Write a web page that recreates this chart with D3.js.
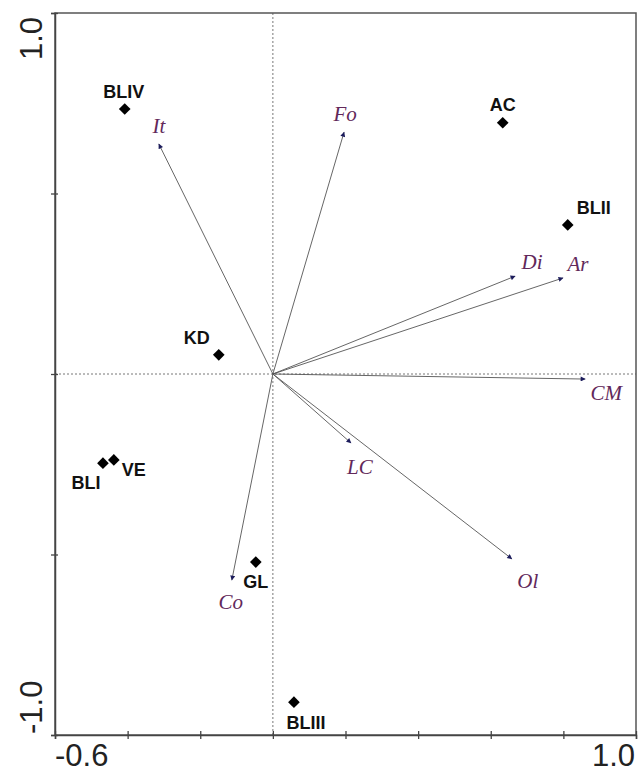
<!DOCTYPE html>
<html>
<head>
<meta charset="utf-8">
<script src="https://cdn.jsdelivr.net/npm/d3@7"></script>
<style>
  body { margin: 0; background: #fff; }
  svg { display: block; }
</style>
</head>
<body>
<svg id="plot"></svg>
<script>
// site scores
var siteNames = ["BLIV", "KD", "AC", "BLII", "BLI", "VE", "GL", "BLIII"];
var siteX = [-0.408, -0.149, 0.633, 0.812, -0.468, -0.438, -0.047, 0.058];
var siteY = [0.734, 0.053, 0.696, 0.413, -0.247, -0.238, -0.521, -0.909];

// environmental vectors
var envNames = ["It", "Fo", "Di", "Ar", "CM", "LC", "Ol", "Co"];
var envX = [-0.314, 0.196, 0.667, 0.799, 0.860, 0.215, 0.658, -0.113];
var envY = [0.637, 0.670, 0.271, 0.266, -0.014, -0.191, -0.512, -0.571];

var xTicks = [-0.6, -0.4, -0.2, 0.0, 0.2, 0.4, 0.6, 0.8, 1.0];
var yTicks = [-1.0, -0.5, 0.0, 0.5, 1.0];

// label offsets (pixels) so the text sits like in the original
var siteLabelPos = {
  "BLIV": [-1, -11, "middle"], "KD": [-22, -11, "middle"], "AC": [0, -12, "middle"],
  "BLII": [9, -11, "start"], "BLI": [-17, 26, "middle"], "VE": [8, 16, "start"],
  "GL": [0, 26, "middle"], "BLIII": [12, 27, "middle"]
};
var envLabelPos = {
  "It": [0, -11], "Fo": [1, -11], "Di": [17, -7], "Ar": [15, -7],
  "CM": [21, 21], "LC": [9, 31], "Ol": [16, 29], "Co": [-1, 29]
};

var width = 638, height = 775;
var plotLeft = 55, plotRight = 636, plotTop = 13, plotBottom = 735;

var svg = d3.select("#plot")
  .attr("width", width)
  .attr("height", height);

var xScale = d3.scaleLinear().domain([-0.6, 1.0]).range([plotLeft, plotRight]);
var yScale = d3.scaleLinear().domain([-1.0, 1.0]).range([plotBottom, plotTop]);

// arrow head
svg.append("defs").append("marker")
  .attr("id", "head")
  .attr("viewBox", "0 0 10 10")
  .attr("refX", 9)
  .attr("refY", 5)
  .attr("markerWidth", 7)
  .attr("markerHeight", 5)
  .attr("markerUnits", "userSpaceOnUse")
  .attr("orient", "auto")
  .append("path")
  .attr("d", "M0,0 L10,5 L0,10 z")
  .attr("fill", "#1c1c5c");

// zero lines
svg.append("line")
  .attr("x1", xScale(0)).attr("x2", xScale(0))
  .attr("y1", plotTop).attr("y2", plotBottom)
  .attr("stroke", "#777").attr("stroke-width", 1)
  .attr("stroke-dasharray", "2,2");
svg.append("line")
  .attr("x1", plotLeft).attr("x2", plotRight)
  .attr("y1", yScale(0)).attr("y2", yScale(0))
  .attr("stroke", "#777").attr("stroke-width", 1)
  .attr("stroke-dasharray", "2,2");

// frame
svg.append("rect")
  .attr("x", plotLeft).attr("y", plotTop)
  .attr("width", plotRight - plotLeft).attr("height", plotBottom - plotTop)
  .attr("fill", "none")
  .attr("stroke", "#555")
  .attr("stroke-width", 1.5);

// axes
var x_axis = d3.axisBottom(xScale).tickValues(xTicks).tickSize(4).tickFormat("");
var gx = svg.append("g")
  .attr("transform", "translate(0," + plotBottom + ")")
  .call(x_axis);
gx.select(".domain").attr("stroke", "#444").attr("stroke-width", 1.5);
gx.selectAll(".tick line").attr("y1", -4).attr("stroke", "#444").attr("stroke-width", 1.3);

var y_axis = d3.axisLeft(yScale).tickValues(yTicks).tickSize(4).tickFormat("");
var gy = svg.append("g")
  .attr("transform", "translate(" + plotLeft + ",0)")
  .call(y_axis);
gy.select(".domain").attr("stroke", "#444").attr("stroke-width", 1.5);
gy.selectAll(".tick line").attr("x1", 3).attr("stroke", "#444").attr("stroke-width", 1.3);

// end tick labels
var tickFont = "Liberation Sans, Arial, sans-serif";
svg.append("text")
  .attr("x", xScale(-0.6)).attr("y", 766)
  .attr("font-family", tickFont).attr("font-size", 31)
  .attr("fill", "#222")
  .text("-0.6");
svg.append("text")
  .attr("x", xScale(1.0) - 1).attr("y", 766)
  .attr("text-anchor", "end")
  .attr("font-family", tickFont).attr("font-size", 31)
  .attr("fill", "#222")
  .text("1.0");
svg.append("text")
  .attr("transform", "translate(42," + (yScale(1.0) + 4) + ") rotate(-90)")
  .attr("text-anchor", "end")
  .attr("font-family", tickFont).attr("font-size", 31)
  .attr("fill", "#222")
  .text("1.0");
svg.append("text")
  .attr("transform", "translate(42," + (yScale(-1.0) - 1) + ") rotate(-90)")
  .attr("text-anchor", "start")
  .attr("font-family", tickFont).attr("font-size", 31)
  .attr("fill", "#222")
  .text("-1.0");

// environmental arrows
var envData = envNames.map(function(n, i) { return { name: n, x: envX[i], y: envY[i] }; });

svg.selectAll(".env")
  .data(envData)
  .enter()
  .append("line")
  .attr("class", "env")
  .attr("x1", xScale(0))
  .attr("y1", yScale(0))
  .attr("x2", function(d) { return xScale(d.x); })
  .attr("y2", function(d) { return yScale(d.y); })
  .attr("stroke", "#555")
  .attr("stroke-width", 0.9)
  .attr("marker-end", "url(#head)");

svg.selectAll(".envLabel")
  .data(envData)
  .enter()
  .append("text")
  .attr("class", "envLabel")
  .attr("x", function(d) { return xScale(d.x) + envLabelPos[d.name][0]; })
  .attr("y", function(d) { return yScale(d.y) + envLabelPos[d.name][1]; })
  .attr("text-anchor", "middle")
  .attr("font-family", "Liberation Serif, Times New Roman, serif")
  .attr("font-style", "italic")
  .attr("font-size", 21)
  .attr("fill", "#62285a")
  .text(function(d) { return d.name; });

// sites
var siteData = siteNames.map(function(n, i) { return { name: n, x: siteX[i], y: siteY[i] }; });

svg.selectAll(".site")
  .data(siteData)
  .enter()
  .append("path")
  .attr("class", "site")
  .attr("d", d3.symbol().type(d3.symbolSquare).size(68))
  .attr("transform", function(d) {
    return "translate(" + xScale(d.x) + "," + yScale(d.y) + ") rotate(45)";
  })
  .attr("fill", "#000");

svg.selectAll(".siteLabel")
  .data(siteData)
  .enter()
  .append("text")
  .attr("class", "siteLabel")
  .attr("x", function(d) { return xScale(d.x) + siteLabelPos[d.name][0]; })
  .attr("y", function(d) { return yScale(d.y) + siteLabelPos[d.name][1]; })
  .attr("text-anchor", function(d) { return siteLabelPos[d.name][2]; })
  .attr("font-family", "Liberation Sans, Arial, sans-serif")
  .attr("font-weight", "bold")
  .attr("font-size", 18)
  .attr("fill", "#111")
  .text(function(d) { return d.name; });
</script>
</body>
</html>
